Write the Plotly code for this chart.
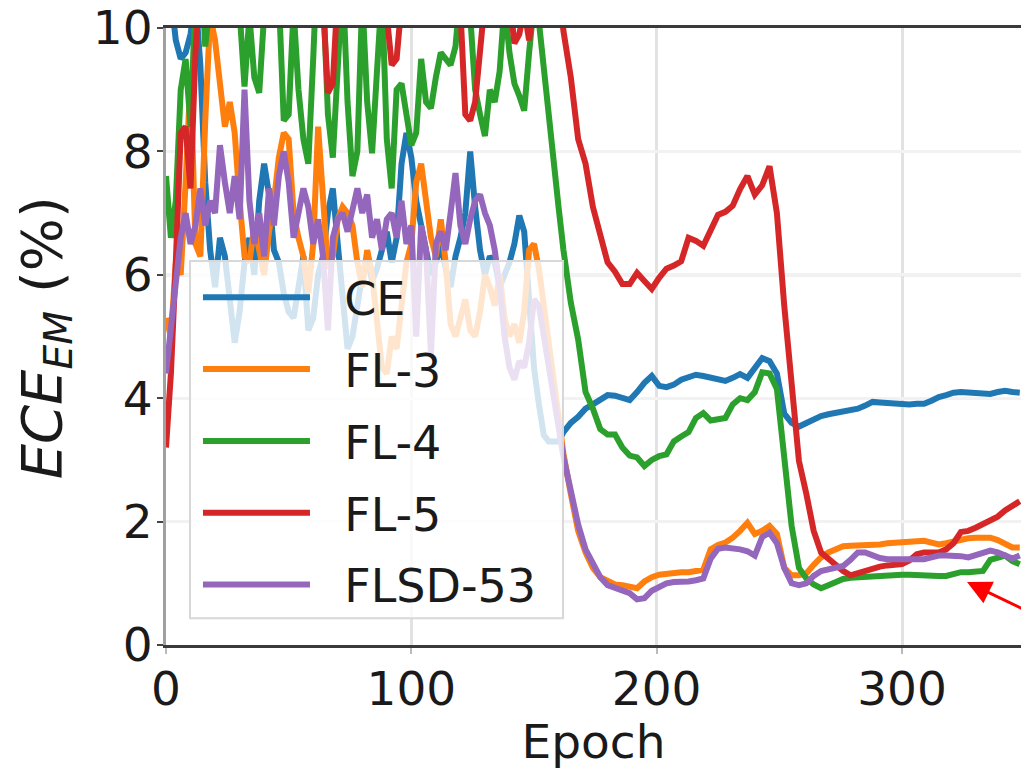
import plotly.graph_objects as go

# ---------------- data ----------------
epochs_noisy = list(range(0, 162, 2))          # 0..160 step 2
epochs_late = list(range(162, 349, 3))         # 162..348 step 3
epochs = epochs_noisy + epochs_late

ce_noisy = [11.0, 10.5, 9.8, 9.5, 9.6, 9.9, 10.5, 9.4, 7.5, 6.4,
            5.8, 6.6, 6.3, 5.5, 4.9, 5.4, 6.2, 6.6, 6.0, 7.2,
            7.8, 7.3, 6.4, 6.2, 5.7, 5.4, 5.3, 5.8, 6.3, 5.1,
            5.3, 6.0, 6.3, 7.0, 7.4, 6.5, 5.6, 4.8, 5.0, 5.5,
            6.0, 6.3, 5.9, 6.1, 6.4, 6.7, 6.2, 6.6, 7.8, 8.3,
            7.9, 7.2, 6.8, 6.4, 6.0, 6.2, 6.5, 6.1, 5.8, 6.3,
            6.6, 7.0, 8.0, 7.1, 6.4, 6.0, 6.3, 6.2, 5.8, 6.0,
            6.2, 6.5, 6.96, 6.7, 5.6, 4.5, 3.9, 3.4, 3.3, 3.3,
            3.3]
ce_late = [3.45, 3.6, 3.7, 3.83, 3.9, 3.99, 4.05, 4.04, 4.0, 3.97,
           4.1, 4.25, 4.36, 4.2, 4.18, 4.22, 4.3, 4.34, 4.38, 4.36,
           4.34, 4.3, 4.28, 4.33, 4.39, 4.33, 4.5, 4.65, 4.6, 4.4,
           3.75, 3.6, 3.54, 3.6, 3.66, 3.71, 3.74, 3.76, 3.78, 3.8,
           3.83, 3.88, 3.94, 3.93, 3.92, 3.92, 3.91, 3.9, 3.91, 3.91,
           3.96, 4.02, 4.05, 4.09, 4.1, 4.09, 4.08, 4.08, 4.07, 4.1,
           4.12, 4.1, 4.09]

fl3_noisy = [5.3, 5.0, 6.2, 6.0, 7.5, 9.2, 6.5, 6.3, 8.5, 10.2,
             9.8, 9.0, 8.4, 8.8, 8.3, 7.2, 6.3, 6.2, 6.8, 6.4,
             6.0, 6.7, 7.2, 7.9, 8.3, 8.2, 7.0, 6.6, 6.3, 5.7,
             6.5, 8.4, 7.2, 6.1, 6.3, 6.9, 7.1, 7.0, 6.8, 6.2,
             5.8, 6.4, 6.0, 5.2, 4.5, 4.4, 5.0, 4.8, 5.6, 6.2,
             6.5, 7.5, 7.8, 7.2, 6.6, 6.3, 6.9, 6.2, 5.2, 5.0,
             5.3, 5.6, 5.1, 5.0, 5.4, 6.0, 5.8, 5.5, 6.0, 5.3,
             5.0, 5.2, 4.9, 5.4, 6.4, 6.5, 6.1, 5.5, 4.8, 4.2,
             3.6]
fl3_late = [3.1, 2.45, 1.85, 1.5, 1.25, 1.1, 1.03, 0.98, 0.97, 0.95,
            0.92, 1.03, 1.1, 1.14, 1.16, 1.18, 1.18, 1.18, 1.2, 1.22,
            1.55, 1.62, 1.66, 1.74, 1.85, 1.98, 1.8, 1.85, 1.93, 1.8,
            1.25, 1.13, 1.13, 1.16, 1.3, 1.42, 1.5, 1.55, 1.6, 1.61,
            1.61, 1.62, 1.63, 1.63, 1.65, 1.66, 1.67, 1.69, 1.69, 1.69,
            1.66, 1.63, 1.65, 1.68, 1.7, 1.73, 1.74, 1.74, 1.74, 1.7,
            1.63, 1.58, 1.58]

fl4_noisy = [7.6, 6.6, 7.2, 9.0, 9.5, 8.4, 10.5, 11.2, 9.7, 10.8,
             11.5, 12.0, 11.2, 12.4, 11.5, 10.2, 9.05, 10.2, 9.2, 8.95,
             10.8, 11.5, 12.0, 10.5, 8.5, 8.6, 10.3, 9.0, 8.2, 7.8,
             9.5, 11.4, 10.6, 8.6, 7.9, 9.2, 10.8, 8.8, 7.6, 8.0,
             10.5, 8.8, 7.97, 9.3, 10.6, 8.2, 7.4, 9.0, 9.1, 8.6,
             8.1, 8.3, 9.5, 8.8, 8.7, 9.2, 9.6, 9.5, 9.4, 9.7,
             10.6, 11.5, 10.2, 9.0, 8.6, 8.25, 9.0, 8.8, 9.3, 10.4,
             9.6, 9.1, 8.9, 8.66, 9.6, 10.4, 10.1, 9.3, 8.6, 7.9,
             7.1]
fl4_late = [6.4, 5.55, 4.95, 4.1, 3.83, 3.5, 3.41, 3.41, 3.2, 3.07,
            3.04, 2.9, 3.0, 3.06, 3.09, 3.3, 3.38, 3.45, 3.68, 3.76,
            3.64, 3.65, 3.68, 3.9, 4.0, 3.97, 4.1, 4.42, 4.4, 4.15,
            3.1, 1.93, 1.25, 1.08, 0.98, 0.92, 0.97, 1.02, 1.07, 1.09,
            1.1, 1.1, 1.11, 1.12, 1.13, 1.14, 1.14, 1.14, 1.13, 1.13,
            1.12, 1.12, 1.12, 1.15, 1.18, 1.18, 1.18, 1.2, 1.38, 1.42,
            1.45, 1.36, 1.31]

fl5_noisy = [3.2, 4.4, 6.2, 8.3, 8.4, 7.4, 9.6, 11.5, 12.0, 11.0,
             12.5, 11.8, 12.2, 11.0, 12.0, 11.5, 12.8, 11.2, 12.0, 11.6,
             12.4, 11.3, 12.0, 11.5, 12.6, 11.4, 12.0, 11.2, 12.3, 11.6,
             12.0, 11.1, 10.4, 8.95, 9.1, 10.6, 11.8, 11.2, 12.4, 11.5,
             12.0, 11.3, 12.5, 11.6, 11.0, 10.2, 9.4, 9.5, 10.4, 11.6,
             12.0, 11.4, 12.2, 11.7, 12.5, 11.5, 12.0, 11.3, 12.1, 11.4,
             10.3, 8.6, 8.5, 8.8, 9.6, 10.8, 11.7, 12.1, 11.3, 11.9,
             10.5, 9.75, 9.9, 10.3, 9.8, 10.4, 11.5, 12.0, 11.6, 11.2,
             10.7]
fl5_late = [9.95, 9.2, 8.2, 7.8, 7.1, 6.6, 6.2, 6.05, 5.85, 5.85,
            6.03, 5.9, 5.77, 5.95, 6.1, 6.15, 6.22, 6.6, 6.55, 6.47,
            6.7, 6.97, 7.02, 7.12, 7.39, 7.6, 7.3, 7.45, 7.76, 7.0,
            5.5, 4.3, 2.98, 2.45, 1.85, 1.5, 1.4, 1.28, 1.2, 1.13,
            1.17, 1.2, 1.23, 1.27, 1.29, 1.29, 1.31, 1.37, 1.47, 1.5,
            1.5, 1.5, 1.55, 1.65, 1.83, 1.85, 1.9, 1.96, 2.02, 2.08,
            2.18, 2.27, 2.33]

flsd_noisy = [4.4, 5.2, 5.8, 6.6, 7.0, 6.5, 6.8, 7.4, 6.8, 7.2,
              7.0, 8.1, 7.5, 7.0, 7.6, 6.9, 9.0, 7.2, 6.5, 7.0,
              6.3, 7.4, 6.8, 7.6, 8.0, 7.5, 6.6, 7.0, 7.4, 7.1,
              6.5, 6.9, 6.3, 5.1, 6.6, 6.9, 7.0, 6.7, 7.1, 7.4,
              7.0, 7.3, 6.6, 6.9, 6.4, 6.9, 7.0, 6.6, 7.2, 6.5,
              6.8, 5.0, 6.8, 6.4, 4.7, 6.5, 6.7, 6.4, 7.0, 7.65,
              6.8, 6.5, 6.9, 7.2, 7.3, 7.0, 6.8, 6.4, 5.8, 5.0,
              4.5, 4.3, 4.6, 4.5, 4.9, 5.6, 5.5, 5.0, 4.4, 3.9,
              3.4]
flsd_late = [3.05, 2.5, 1.95, 1.55, 1.3, 1.1, 0.97, 0.93, 0.9, 0.84,
             0.74, 0.76, 0.88, 0.95, 1.0, 1.02, 1.02, 1.03, 1.05, 1.08,
             1.4, 1.56, 1.58, 1.57, 1.55, 1.52, 1.45, 1.75, 1.82, 1.65,
             1.25, 1.0, 0.97, 1.0, 1.12, 1.2, 1.22, 1.24, 1.28, 1.38,
             1.5, 1.5, 1.45, 1.41, 1.39, 1.39, 1.39, 1.39, 1.39, 1.39,
             1.42, 1.45, 1.45, 1.45, 1.44, 1.42, 1.45, 1.5, 1.53, 1.5,
             1.45, 1.4, 1.45]

series_names = ["CE", "FL-3", "FL-4", "FL-5", "FLSD-53"]
series_values = [ce_noisy + ce_late, fl3_noisy + fl3_late, fl4_noisy + fl4_late,
                 fl5_noisy + fl5_late, flsd_noisy + flsd_late]
series_colors = ["#1f77b4", "#ff7f0e", "#2ca02c", "#d62728", "#9467bd"]

x_ticks = [0, 100, 200, 300]
y_ticks = [0, 2, 4, 6, 8, 10]

# arrow (points at FL-4 late curve)
arrow_tip = (326.5, 1.02)
arrow_tail = (351.0, 0.55)

FONT = "DejaVu Sans"
PAD = "\u00a0\u00a0"   # gap between legend line sample and label

fig = go.Figure()
for name, vals, col in zip(series_names, series_values, series_colors):
    fig.add_trace(go.Scatter(x=epochs, y=vals, mode="lines", name=PAD + name,
                             legendgroup=name,
                             line=dict(color=col, width=6)))

# darker horizontal rule at 6 (as in the source figure)
fig.add_shape(type="line", xref="paper", x0=0, x1=1, yref="y", y0=6, y1=6,
              line=dict(color="#c4c4c4", width=3), layer="between")

# legend frame (semi-transparent white box above the lines)
fig.add_shape(type="rect", xref="paper", yref="paper",
              x0=0.0281, x1=0.4643, y0=0.0434, y1=0.6225,
              fillcolor="rgba(255,255,255,0.8)",
              line=dict(color="#d8d8d8", width=2), layer="above")

fig.add_annotation(x=arrow_tip[0], y=arrow_tip[1], ax=arrow_tail[0], ay=arrow_tail[1],
                   xref="x", yref="y", axref="x", ayref="y", text="",
                   showarrow=True, arrowhead=2, arrowsize=1.6, arrowwidth=3,
                   arrowcolor="#ff0000")

# y-axis title
fig.add_annotation(text="<i>ECE</i><sub><i>EM</i></sub> (%)", textangle=-90,
                   xref="paper", yref="paper", x=-0.1415, y=0.497,
                   xanchor="center", yanchor="middle", showarrow=False,
                   font=dict(size=56, family=FONT, color="#1a1a1a"))

fig.update_layout(
    width=1021, height=769,
    margin=dict(l=166, r=0, t=26, b=115),
    paper_bgcolor="white", plot_bgcolor="white",
    font=dict(family=FONT, size=47, color="#1a1a1a"),
    showlegend=True,
    legend=dict(x=0.0374, y=0.6225, xanchor="left", yanchor="top",
                bgcolor="rgba(0,0,0,0)", borderwidth=0,
                font=dict(family=FONT, size=46, color="#1a1a1a"),
                itemwidth=107, tracegroupgap=9, traceorder="grouped"),
)
fig.update_xaxes(range=[0, 348.5], tickvals=x_ticks, ticktext=[str(v) for v in x_ticks],
                 showgrid=True, gridcolor="#e2e2e2", gridwidth=3,
                 showline=True, linecolor="#3a3a3a", linewidth=3, mirror=True,
                 ticks="outside", ticklen=6, tickwidth=2, tickcolor="#bbbbbb",
                 ticklabelstandoff=-5, ticklabeloverflow="allow",
                 zeroline=False,
                 title=dict(text="Epoch", standoff=20, font=dict(size=47, family=FONT)))
fig.update_yaxes(range=[0, 10], tickvals=y_ticks, ticktext=[str(v) for v in y_ticks],
                 showgrid=True, gridcolor="#f2f2f2", gridwidth=3,
                 showline=True, linecolor="#a0a0a0", linewidth=3, mirror=False,
                 ticks="outside", ticklen=6, tickwidth=2, tickcolor="#444444",
                 ticklabelstandoff=-5, ticklabeloverflow="allow",
                 zeroline=False, layer="below traces")

fig.write_html("out.html")
